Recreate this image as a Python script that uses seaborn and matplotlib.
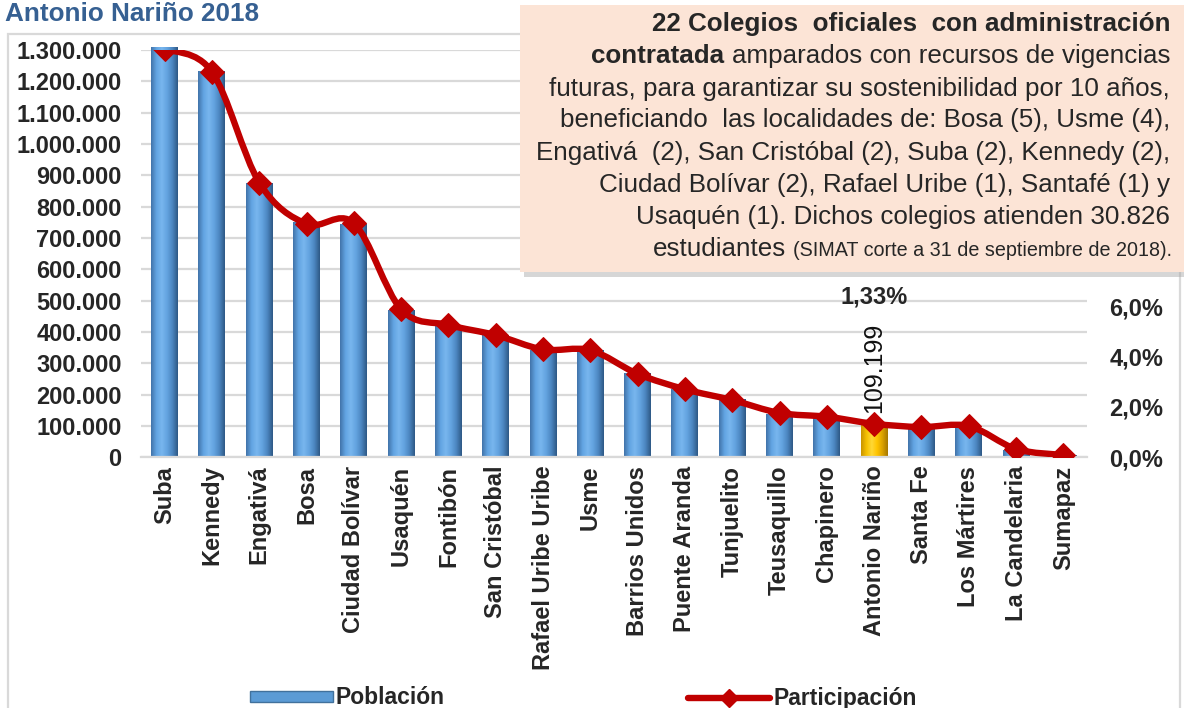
import numpy as np
import pandas as pd
import matplotlib
matplotlib.use("Agg")
import matplotlib.pyplot as plt
import seaborn as sns
from matplotlib.patches import Rectangle, PathPatch
from matplotlib.path import Path
from matplotlib.lines import Line2D
from matplotlib.text import Annotation
from matplotlib.colors import LinearSegmentedColormap
from matplotlib import font_manager

# ---------------- data ----------------
localidades = ["Suba", "Kennedy", "Engativá", "Bosa", "Ciudad Bolívar", "Usaquén",
               "Fontibón", "San Cristóbal", "Rafael Uribe Uribe", "Usme",
               "Barrios Unidos", "Puente Aranda", "Tunjuelito", "Teusaquillo",
               "Chapinero", "Antonio Nariño", "Santa Fe", "Los Mártires",
               "La Candelaria", "Sumapaz"]
poblacion = [1310000, 1234000, 875000, 750000, 745000, 470000, 423000, 391000,
             344000, 341000, 270000, 218000, 186000, 139000, 128000, 109199,
             91000, 92000, 22000, 7000]
participacion = [16.2, 15.3, 10.9, 9.26, 9.29, 5.87, 5.25, 4.85, 4.28, 4.25,
                 3.31, 2.70, 2.27, 1.76, 1.61, 1.33, 1.20, 1.24, 0.33, 0.09]
y_ticks_left = [0, 100000, 200000, 300000, 400000, 500000, 600000, 700000,
                800000, 900000, 1000000, 1100000, 1200000, 1300000]
y_ticks_right = [0, 2, 4, 6]
destacada = "Antonio Nariño"
titulo = "Antonio Nariño 2018"

# ---------------- setup ----------------
sns.set_style("white")
plt.rcParams['font.family'] = ['Liberation Sans', 'DejaVu Sans']
avail = {f.name for f in font_manager.fontManager.ttflist}

W, H = 1184, 708
fig = plt.figure(figsize=(W / 100, H / 100), dpi=100)


def fx(px):
    return px / W


def fy(py):
    return 1 - py / H


top_px, bot_px = 50, 457.3
ax = fig.add_axes([fx(141), fy(bot_px), fx(1087) - fx(141), (bot_px - top_px) / H])

df = pd.DataFrame({"Localidad": localidades, "Poblacion": poblacion})
palette = {l: ("#FFC000" if l == destacada else "#5B9BD5") for l in localidades}
sns.barplot(data=df, x="Localidad", y="Poblacion", hue="Localidad", palette=palette,
            legend=False, ax=ax, width=0.57, saturation=1, edgecolor="none", zorder=2)

blue_cmap = LinearSegmentedColormap.from_list(
    "b", ["#4274AA", "#62A4E2", "#78B6EE", "#63A3E0", "#4C86C0", "#2E5986"])
gold_cmap = LinearSegmentedColormap.from_list(
    "g", ["#C99400", "#F5C000", "#FFD836", "#FFC400", "#DBA200", "#A67800"])
grad = np.linspace(0, 1, 64).reshape(1, -1)
for patch, loc in zip(ax.patches, localidades):
    x0, w, h = patch.get_x(), patch.get_width(), patch.get_height()
    cm = gold_cmap if loc == destacada else blue_cmap
    im = ax.imshow(grad, cmap=cm, extent=[x0, x0 + w, 0, h], aspect="auto",
                   zorder=2.1, interpolation="bilinear")
    im.set_clip_path(patch)

ax.set_xlim(-0.5, len(localidades) - 0.5)
ax.set_ylim(0, 1300000)
ax.set_yticks(y_ticks_left)
ax.set_yticklabels([f"{v:,}".replace(",", ".") for v in y_ticks_left],
                   fontsize=17, fontweight="bold")
ax.set_xticks(range(len(localidades)))
ax.set_xticklabels(localidades, rotation=90, fontsize=17, fontweight="bold")
ax.tick_params(axis="both", length=0)
ax.tick_params(axis="y", pad=14)
ax.tick_params(axis="x", pad=6)
ax.set_xlabel("")
ax.set_ylabel("")
ax.yaxis.grid(True, color="#D9D9D9", lw=1.6)
ax.set_axisbelow(True)
for s in ["left", "top", "right"]:
    ax.spines[s].set_visible(False)
ax.spines["bottom"].set_color("#D9D9D9")
ax.spines["bottom"].set_linewidth(1.6)

# data label on highlighted bar
i_d = localidades.index(destacada)
ax.annotate(f"{poblacion[i_d]:,}".replace(",", "."), xy=(i_d, poblacion[i_d]),
            xytext=(0, 7), textcoords="offset points", rotation=90,
            ha="center", va="bottom", fontsize=18, color="#111111", zorder=5)

# ---------------- line (right axis) ----------------
ax2 = ax.twinx()
red = "#C00000"
xs = np.arange(len(localidades))
sns.lineplot(x=xs, y=participacion, ax=ax2, color=red, linestyle="", marker="D",
             markersize=12, markeredgecolor=red, zorder=4)
# Excel-like smoothed line through the points (cubic Bezier, Catmull-Rom)
P = np.column_stack([xs, participacion]).astype(float)
Pe = np.vstack([P[0], P, P[-1]])
verts = [tuple(P[0])]
codes = [Path.MOVETO]
for k in range(len(P) - 1):
    p0, p1, p2, p3 = Pe[k], Pe[k + 1], Pe[k + 2], Pe[k + 3]
    c1 = p1 + (p2 - p0) / 6.0
    c2 = p2 - (p3 - p1) / 6.0
    verts += [tuple(c1), tuple(c2), tuple(p2)]
    codes += [Path.CURVE4] * 3
ax2.add_patch(PathPatch(Path(verts, codes), fill=False, edgecolor=red, lw=4.6,
                        capstyle="round", joinstyle="round", zorder=3))
ax2.set_ylim(0, (bot_px - top_px) / 25.2)
ax2.set_yticks(y_ticks_right)
ax2.set_yticklabels([f"{v:.1f}%".replace(".", ",") for v in y_ticks_right],
                    fontsize=17, fontweight="bold")
ax2.tick_params(axis="y", length=0, pad=16)
ax2.set_ylabel("")
ax2.grid(False)
for s in ["left", "top", "right", "bottom"]:
    ax2.spines[s].set_visible(False)
if ax2.get_legend():
    ax2.get_legend().remove()
ax2.annotate(f"{participacion[i_d]:.2f}%".replace(".", ","), xy=(i_d, participacion[i_d]),
             xytext=(0, 91), textcoords="offset points", ha="center", va="center",
             fontsize=17, fontweight="bold")

# ---------------- title, border, legend ----------------
fig.text(fx(5), fy(14), titulo, fontsize=18.8, fontweight="bold", color="#366092",
         ha="left", va="center")
fig.patches.append(Rectangle((fx(8), fy(720)), fx(1180) - fx(8), fy(34) - fy(720),
                             transform=fig.transFigure, fill=False,
                             edgecolor="#D9D9D9", lw=1.6, zorder=0))

h_bar = Rectangle((0, 0), 1, 1, facecolor="#5B9BD5", edgecolor="#41719C", lw=1)
h_line = Line2D([], [], color=red, lw=4.6, marker="D", markersize=9)
fig.legend([h_bar, h_line], ["Población", "Participación"], loc="center left",
           bbox_to_anchor=(fx(250), fy(698)), ncol=2, frameon=False,
           prop={"size": 16.5, "weight": "bold"}, handlelength=3.6, handleheight=0.4,
           handletextpad=0.15, columnspacing=10.6, borderaxespad=0, borderpad=0)

# ---------------- text box ----------------
fig.patches.append(Rectangle((fx(524), fy(277)), fx(1184) - fx(524), fy(9) - fy(277),
                             transform=fig.transFigure, facecolor="#A6A6A6",
                             alpha=0.45, edgecolor="none", zorder=5))
fig.patches.append(Rectangle((fx(520), fy(272)), fx(1184) - fx(520), fy(5) - fy(272),
                             transform=fig.transFigure, facecolor="#FCE4D6",
                             edgecolor="none", zorder=6))

if "Liberation Sans Narrow" in avail:
    bfam, bsize = ["Liberation Sans Narrow", "DejaVu Sans"], 22.5
else:
    bfam, bsize = ["Liberation Sans", "DejaVu Sans"], 18.7

xr = fx(1170)
base = [31, 63, 96, 127, 160, 192, 224, 256]
kw = dict(ha="right", va="baseline", family=bfam, fontsize=bsize, zorder=7)
fig.text(xr, fy(base[0]), "22 Colegios  oficiales  con administración",
         fontweight="bold", **kw)
t2 = fig.text(xr, fy(base[1]), "amparados con recursos de vigencias", **kw)
a2 = Annotation("contratada", xy=(0, fy(base[1])), xycoords=(t2, "figure fraction"),
                xytext=(-5, 0), textcoords="offset points", fontweight="bold", **kw)
fig.add_artist(a2)
fig.text(xr, fy(base[2]), "futuras, para garantizar su sostenibilidad por 10 años,", **kw)
fig.text(xr, fy(base[3]), "beneficiando  las localidades de: Bosa (5), Usme (4),", **kw)
fig.text(xr, fy(base[4]), "Engativá  (2), San Cristóbal (2), Suba (2), Kennedy (2),", **kw)
fig.text(xr, fy(base[5]), "Ciudad Bolívar (2), Rafael Uribe (1), Santafé (1) y", **kw)
fig.text(xr, fy(base[6]), "Usaquén (1). Dichos colegios atienden 30.826", **kw)
kw_small = dict(kw)
kw_small["fontsize"] = bsize * 0.76
t8 = fig.text(fx(1172), fy(base[7]), "(SIMAT corte a 31 de septiembre de 2018).", **kw_small)
a8 = Annotation("estudiantes", xy=(0, fy(base[7])), xycoords=(t8, "figure fraction"),
                xytext=(-5, 0), textcoords="offset points", **kw)
fig.add_artist(a8)

fig.savefig("out.png", dpi=100)
